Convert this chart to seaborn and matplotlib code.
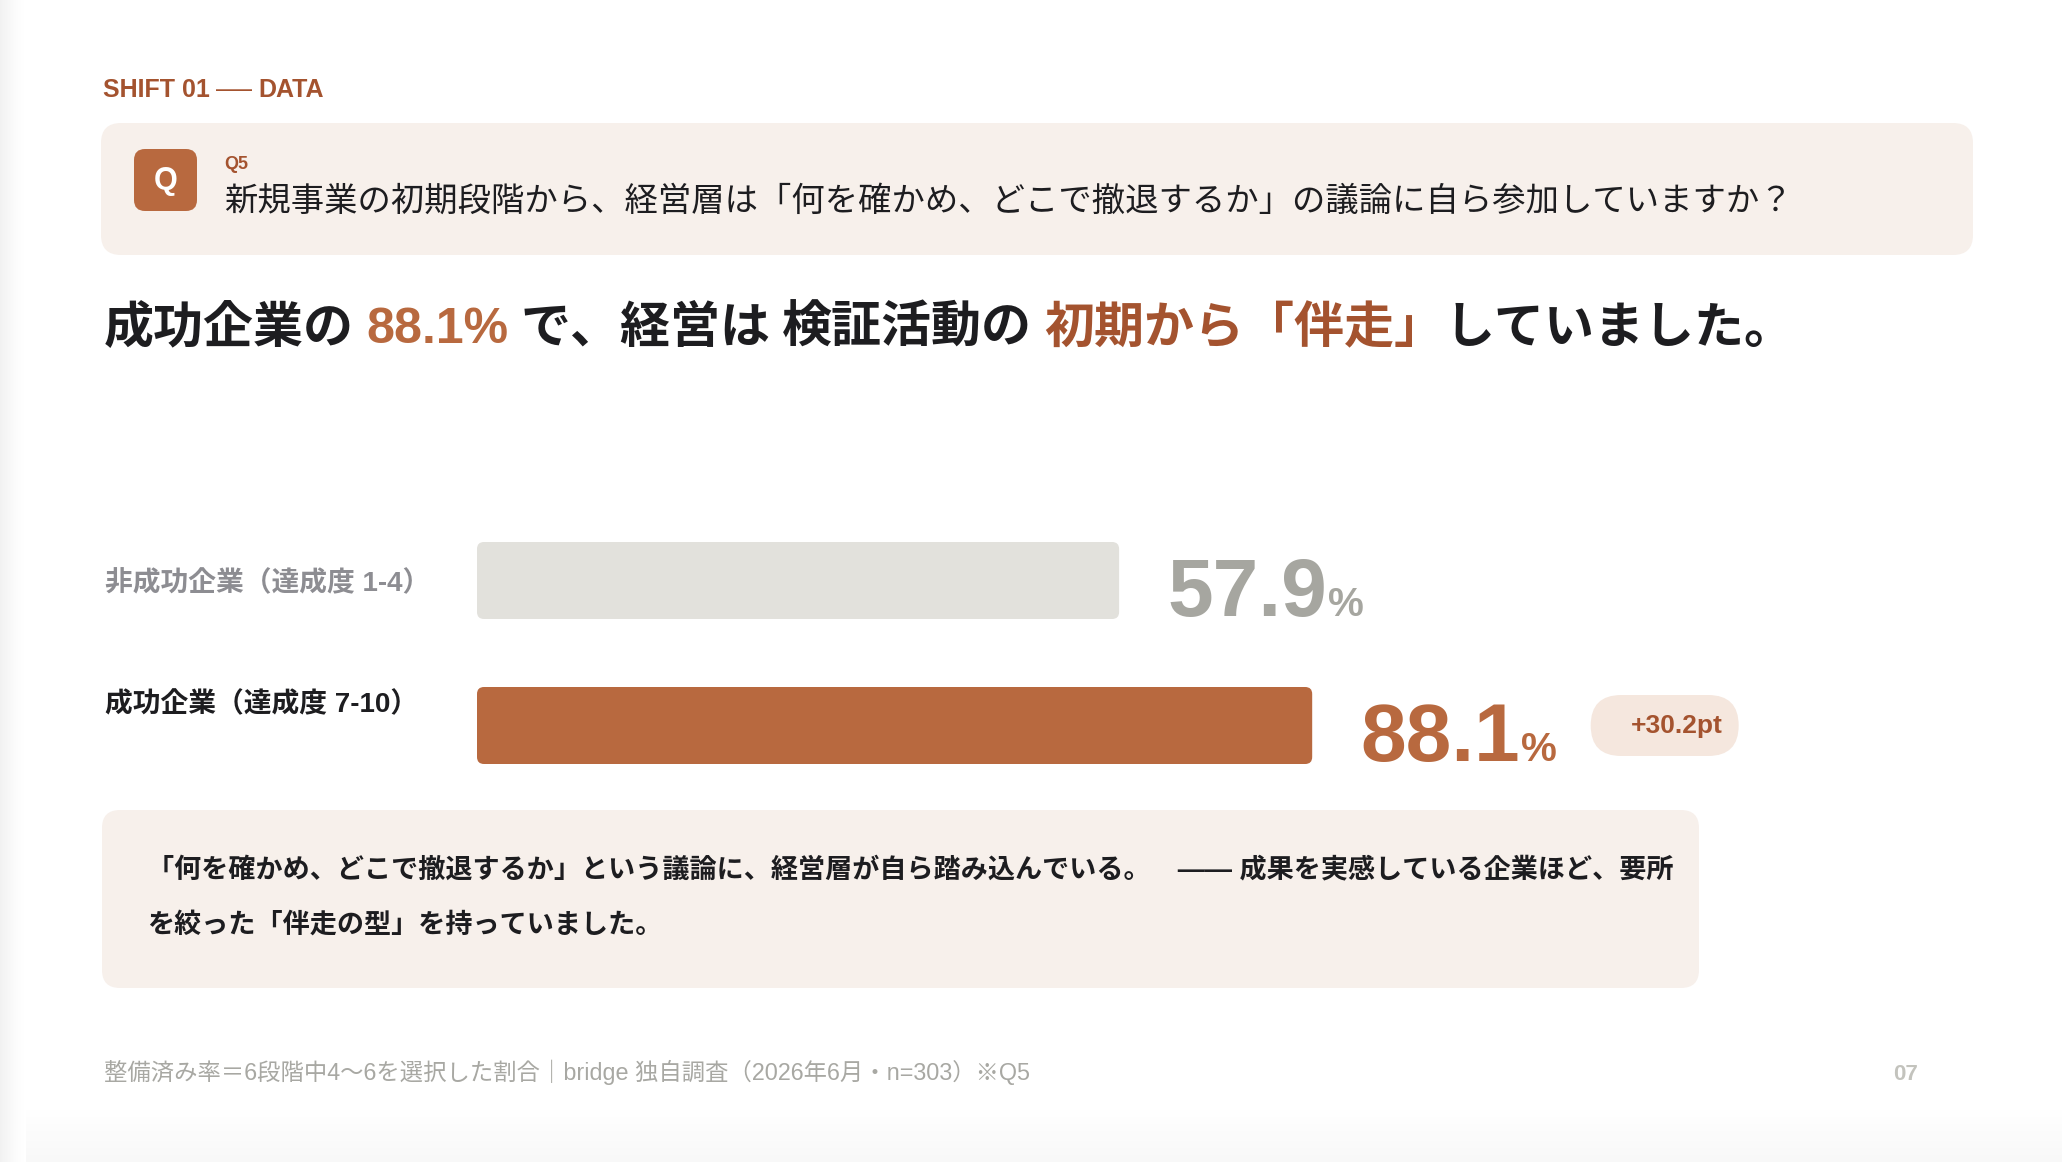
import numpy as np
import matplotlib
matplotlib.use("Agg")
import matplotlib.pyplot as plt
import seaborn as sns
from matplotlib.patches import FancyBboxPatch, Rectangle

# ---------------- data ----------------
groups = ["非成功企業（達成度 1-4）", "成功企業（達成度 7-10）"]
rates = [57.9, 88.1]
rate_labels = ["57.9", "88.1"]
diff_label = "+30.2pt"
section_parts = ["SHIFT 01", "——", "DATA"]
q_number = "Q5"
question = "新規事業の初期段階から、経営層は「何を確かめ、どこで撤退するか」の議論に自ら参加していますか？"
headline_parts = ["成功企業の", "88.1%", "で、経営は", "検証活動の", "初期から「伴走」", "していました。"]
note_lines = ["「何を確かめ、どこで撤退するか」という議論に、経営層が自ら踏み込んでいる。　—— 成果を実感している企業ほど、要所",
              "を絞った「伴走の型」を持っていました。"]
footer = "整備済み率＝6段階中4〜6を選択した割合｜bridge 独自調査（2026年6月・n=303）※Q5"
page_no = "07"

# ---------------- style ----------------
W, H, DPI = 2062, 1162, 100
DARK = "#1d1d20"
ACCENT = "#b8693f"
ACCENT2 = "#a4532f"
BAR_GRAY = "#e2e1dc"
VAL_GRAY = "#a6a6a0"
LABEL_GRAY = "#8d8d92"
BOX_BG = "#f7f0eb"
BADGE_BG = "#f5e7de"
FAM = ["Liberation Sans", "Noto Sans CJK JP"]

sns.set_theme(style="white")
plt.rcParams["font.family"] = FAM

fig = plt.figure(figsize=(W / DPI, H / DPI), dpi=DPI)
fig.patch.set_facecolor("white")
bg = fig.add_axes([0, 0, 1, 1])
bg.set_axis_off()
bg.set_xlim(0, W)
bg.set_ylim(H, 0)

# subtle page shadow at left and bottom, drawn as thin strips
n = 24
for k in range(n):
    g = 1 - 0.055 * (1 - k / n) ** 1.5
    bg.add_patch(Rectangle((k * 26 / n, 0), 26 / n + 0.5, H, fc=(g, g, g), ec="none", zorder=0))
for k in range(n):
    g = 1 - 0.03 * (k / n)
    y = 1105 + k * (H - 1105) / n
    bg.add_patch(Rectangle((26, y), W, (H - 1105) / n + 0.5, fc=(g, g, g), ec="none", zorder=0))

renderer = fig.canvas.get_renderer()


def rbox(ax, x0, y0, x1, y1, r, color, z=1):
    p = FancyBboxPatch((x0 + r, y0 + r), (x1 - x0) - 2 * r, (y1 - y0) - 2 * r,
                       boxstyle=f"round,pad={r}", fc=color, ec="none", zorder=z)
    ax.add_patch(p)
    return p


def txt(x, y, s, size, color, weight="normal", ha="left", va="baseline", z=5):
    return bg.text(x, y, s, fontsize=size, color=color, fontweight=weight,
                   ha=ha, va=va, family=FAM, zorder=z)


# section label
t = txt(103, 97, section_parts[0], 18, ACCENT2, "bold")
x = t.get_window_extent(renderer).x1 + 6
t = txt(x, 95, section_parts[1], 13, ACCENT2, "bold")
x = t.get_window_extent(renderer).x1 + 6
txt(x, 97, section_parts[2], 18, ACCENT2, "bold")

# question box
rbox(bg, 101, 123, 1973, 255, 20, BOX_BG)
rbox(bg, 134, 149, 197, 211, 11, ACCENT, z=2)
txt(165.5, 181, "Q", 22, "white", "bold", ha="center", va="center")
txt(224, 169, q_number, 13, ACCENT2, "bold")
txt(224, 211, question, 24, DARK)

# headline with coloured segments
h_colors = [DARK, ACCENT, DARK, DARK, ACCENT2, DARK]
h_gaps = [12, 12, 12, 12, 0, 0]
x = 104
for part, col, gap in zip(headline_parts, h_colors, h_gaps):
    t = txt(x, 343, part, 36, col, "bold")
    x = t.get_window_extent(renderer).x1 + gap

# ---------------- bars ----------------
track_left = 477
track_widths = [1109, 948]
bar_tops = [542, 687]
bar_h = 77
bar_colors = [BAR_GRAY, ACCENT]
val_colors = [VAL_GRAY, ACCENT]
label_colors = [LABEL_GRAY, DARK]
label_baselines = [591, 712]

for i in range(2):
    ax = fig.add_axes([track_left / W, 1 - (bar_tops[i] + bar_h) / H,
                       track_widths[i] / W, bar_h / H])
    sns.barplot(x=[rates[i]], y=[groups[i]], color=bar_colors[i], saturation=1,
                width=1.0, errorbar=None, orient="h", ax=ax)
    ax.set_xlim(0, 100)
    ax.set_ylim(0.5, -0.5)
    ax.set_axis_off()
    ax.patch.set_alpha(0)
    # rounded-corner rendering of the seaborn bar
    for p in ax.patches:
        bb = p.get_window_extent(renderer)
        p.set_visible(False)
        x0, x1 = bb.x0, bb.x1
        y0, y1 = H - bb.y1, H - bb.y0
        rbox(bg, x0, y0, x1, y1, 7, bar_colors[i], z=3)
        # value label
        t = txt(x1 + 48, y1 - 3, rate_labels[i], 59, val_colors[i], "bold")
        e = t.get_window_extent(renderer)
        tp = txt(e.x1 + 1, y1 - 3, "%", 29, val_colors[i], "bold")
        if i == 1:
            ep = tp.get_window_extent(renderer)
            bx0 = ep.x1 + 34
            cy = (y0 + y1) / 2
            rbox(bg, bx0, cy - 30.5, bx0 + 148, cy + 30.5, 30.5, BADGE_BG, z=3)
            txt(bx0 + 74 + 12, cy + 1, diff_label, 19, ACCENT2, "bold", ha="center", va="center")
    txt(105, label_baselines[i], groups[i], 20, label_colors[i], "bold")

# ---------------- note box ----------------
rbox(bg, 102, 810, 1699, 988, 18, BOX_BG)
txt(147, 877, note_lines[0], 19.5, DARK, "bold")
txt(147, 933, note_lines[1], 19.5, DARK, "bold")

# ---------------- footer ----------------
txt(104, 1080, footer, 16.8, "#a8a8a3")
txt(1918, 1080, page_no, 16, "#c3c3bd", "bold", ha="right")

fig.savefig("out.png", dpi=DPI, facecolor="white")
